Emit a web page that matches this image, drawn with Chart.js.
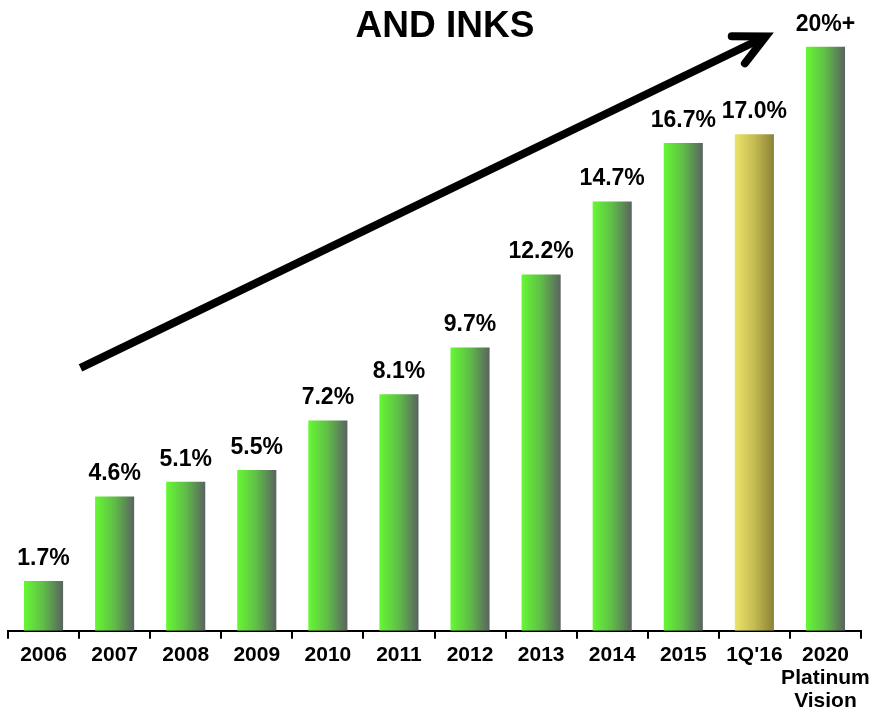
<!DOCTYPE html>
<html>
<head>
<meta charset="utf-8">
<script src="https://cdn.jsdelivr.net/npm/chart.js@4/dist/chart.umd.min.js"></script>
<style>
  html, body { margin: 0; padding: 0; background: #fff; overflow: hidden; }
  #wrap { position: relative; width: 873px; height: 714px; }
</style>
</head>
<body>
<div id="wrap"><canvas id="graph"></canvas></div>
<script>
// =========================== Data
const years = ['2006', '2007', '2008', '2009', '2010', '2011', '2012', '2013', '2014', '2015', "1Q'16", ['2020', 'Platinum', 'Vision']]
const share = [1.7, 4.6, 5.1, 5.5, 7.2, 8.1, 9.7, 12.2, 14.7, 16.7, 17.0, 20]
const quarterIdx = 10   // the yellow bar
const targetIdx = 11    // "20%+" goal bar
const title = 'AND INKS'

// trend arrow, in (category index, value) terms
const arrowFrom = [0.52, 9.0]
const arrowTo = [10.16, 20.35]

const font = 'Liberation Sans, Arial, sans-serif'
const green = ['#66f833', '#5fbc48', '#5a6360']
const yellow = ['#ebe36a', '#c4bb52', '#8a8236']
const barPct = 0.55

function shareText(i){
    if(i === targetIdx) return share[i] + '%+'
    return share[i].toFixed(1) + '%'
}

// =========================== Callbacks / Functions
function barFill(c){
    const chart = c.chart
    const xs = chart.scales.x
    if(!xs || !chart.chartArea) return green[0]
    const cx = xs.getPixelForValue(c.dataIndex)
    const half = xs.width / years.length * barPct / 2
    const g = chart.ctx.createLinearGradient(cx - half, 0, cx + half, 0)
    const cols = c.dataIndex === quarterIdx ? yellow : green
    g.addColorStop(0, cols[0])
    g.addColorStop(0.5, cols[1])
    g.addColorStop(1, cols[2])
    return g
}

const extras = {
    id: 'extras',
    afterDatasetsDraw(chart){
        const ctx = chart.ctx
        const xs = chart.scales.x
        const ys = chart.scales.y
        ctx.save()

        // value labels above the bars
        ctx.fillStyle = '#000'
        ctx.font = 'bold 23px ' + font
        ctx.textAlign = 'center'
        ctx.textBaseline = 'alphabetic'
        chart.getDatasetMeta(0).data.forEach((bar, i) => {
            ctx.fillText(shareText(i), bar.x, bar.y - 16)
        })

        // title
        ctx.font = 'bold 37px ' + font
        ctx.fillText(title, 445, 37)

        // trend arrow
        const x0 = xs.getPixelForValue(arrowFrom[0]), y0 = ys.getPixelForValue(arrowFrom[1])
        const x1 = xs.getPixelForValue(arrowTo[0]), y1 = ys.getPixelForValue(arrowTo[1])
        const ang = Math.atan2(y1 - y0, x1 - x0)
        const back = ang + Math.PI
        const arm = 34, spread = 0.46
        ctx.strokeStyle = '#000'
        ctx.lineWidth = 8
        ctx.lineCap = 'butt'
        ctx.beginPath()
        ctx.moveTo(x0, y0)
        ctx.lineTo(x1 - Math.cos(ang) * 4, y1 - Math.sin(ang) * 4)
        ctx.stroke()
        ctx.lineCap = 'round'
        ctx.lineJoin = 'miter'
        ctx.beginPath()
        ctx.moveTo(x1 + Math.cos(back - spread) * arm, y1 + Math.sin(back - spread) * arm)
        ctx.lineTo(x1, y1)
        ctx.lineTo(x1 + Math.cos(back + spread) * arm, y1 + Math.sin(back + spread) * arm)
        ctx.stroke()
        ctx.restore()
    }
}

function dash(){
    const cv = document.getElementById('graph')
    new Chart(cv, {
        type: 'bar',
        data: {
            labels: years,
            datasets: [{
                data: share,
                backgroundColor: barFill,
                borderWidth: 0,
                barPercentage: barPct,
                categoryPercentage: 1
            }]
        },
        options: {
            responsive: true,
            maintainAspectRatio: false,
            animation: false,
            layout: { padding: { left: 8, right: 12, top: 0, bottom: -4 } },
            scales: {
                x: {
                    offset: true,
                    // wide last label may overhang; keep the axis span fixed by layout padding
                    afterFit(scale){
                        scale.paddingLeft = 0
                        scale.paddingRight = 0
                    },
                    border: { color: '#000', width: 2 },
                    grid: {
                        offset: true,
                        drawOnChartArea: false,
                        color: '#000',
                        lineWidth: 2,
                        tickLength: 8
                    },
                    ticks: {
                        color: '#000',
                        padding: 5,
                        maxRotation: 0,
                        autoSkip: false,
                        font: { family: font, size: 21, weight: 'bold', lineHeight: 1.1 }
                    }
                },
                y: {
                    display: false,
                    min: 0,
                    max: 21.6
                }
            },
            plugins: {
                legend: { display: false },
                tooltip: { enabled: false }
            }
        },
        plugins: [extras]
    })
}

dash()
</script>
</body>
</html>
